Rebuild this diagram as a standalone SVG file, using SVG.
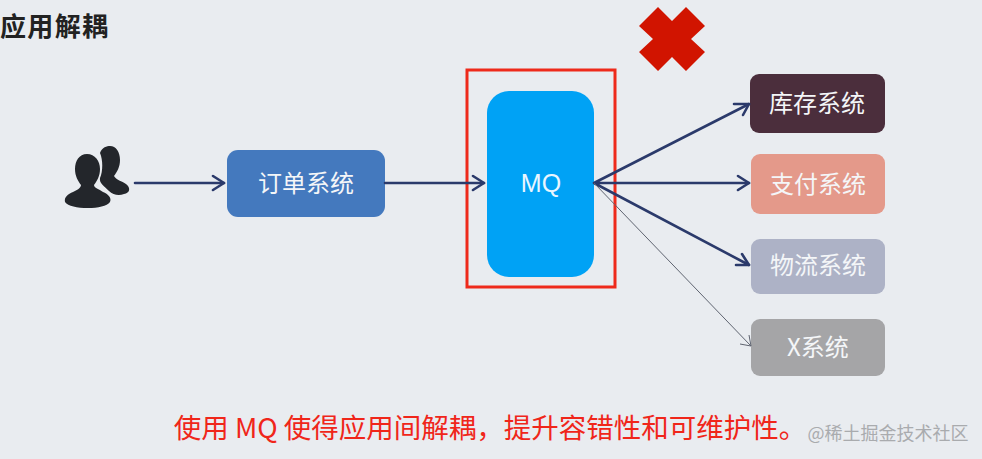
<svg xmlns="http://www.w3.org/2000/svg" width="982" height="459" viewBox="0 0 982 459">
<style>
text{font-family:"Noto Sans CJK SC","Liberation Sans",sans-serif;text-anchor:middle}
.n{fill:#f4f6f8;font-size:24px}
.c{fill:none;stroke:#2b3a6b;stroke-width:2.6;stroke-linecap:round}
.h{fill:none;stroke:#2b3a6b;stroke-width:2.6;stroke-linecap:round;stroke-linejoin:round}
.t{fill:none;stroke:#5f6470;stroke-width:1}
.d{fill:#23262b}
</style>
<rect width="982" height="459" fill="#e9ecf0"/>
<text id="title" x="54" y="36" style="font-size:26px;font-weight:700;fill:#222" textLength="108">应用解耦</text>
<g id="user">
<path class="d" d="M100 153C102 147 107 146 110 146C116 146 120 152 120 160C120 167 117 172 114 176C116 180 122 181 126 184C131 188 130 193 124 194C119 196 113 195 109 191C104 186 99 183 100 178C103 171 103 160 100 153Z"/>
<path class="d" d="M87 154C95 154 100 161 100 169C100 176 97 181 94 185C94 188 99 189 103 192C108 194 112 198 110 202C107 206 98 208 88 208C77 208 68 206 65 202C64 197 68 194 73 192C77 190 81 188 81 185C78 181 75 176 75 169C75 161 79 154 87 154Z"/>
</g>
<g id="order"><rect x="227" y="150" width="158" height="67" rx="11" fill="#4479be"/><text class="n" x="306" y="192">订单系统</text></g>
<g id="mq"><rect x="487" y="91" width="107" height="186" rx="22" fill="#00a2f5"/><text x="541" y="192" style="font-size:25px;fill:#eaf6ff;font-family:'Liberation Sans',sans-serif">MQ</text></g>
<rect id="frame" x="467" y="70" width="148" height="217" fill="none" stroke="#ee2a1b" stroke-width="3"/>
<g id="stock"><rect x="750" y="74" width="135" height="59" rx="9" fill="#4b2e3c"/><text class="n" x="817" y="112">库存系统</text></g>
<g id="pay"><rect x="751" y="154" width="134" height="60" rx="9" fill="#e4998a"/><text class="n" x="818" y="193">支付系统</text></g>
<g id="logistics"><rect x="751" y="239" width="134" height="55" rx="9" fill="#adb2c6"/><text class="n" x="818" y="274">物流系统</text></g>
<g id="x"><rect x="751" y="319" width="134" height="57" rx="9" fill="#a5a5a7"/><text class="n" x="818" y="356">X系统</text></g>
<path id="cross" d="M658 7L672 21L686 7L705 26L691 39L705 52L686 71L672 57L658 71L639 52L653 39L639 26Z" fill="#d11400"/>
<g id="connectors">
<path class="c" d="M135 183H224M385 183H484M594 183L749 104M594 183H749M594 183L749 265"/>
<path class="h" d="M213 176L224 183L213 190M473 176L484 183L473 190M734 104L749 104L743 115M738 176L749 183L738 190M736 265L749 265L742 254"/>
<path class="t" d="M594 183L751 346M740 344L751 346L749 335"/>
</g>
<text id="caption" x="490" y="438" style="font-size:27.5px;fill:#f0261a">使用 MQ 使得应用间解耦，提升容错性和可维护性。</text>
<text id="watermark" x="888" y="440" style="font-size:18px;fill:#a9abae">@稀土掘金技术社区</text>
</svg>
